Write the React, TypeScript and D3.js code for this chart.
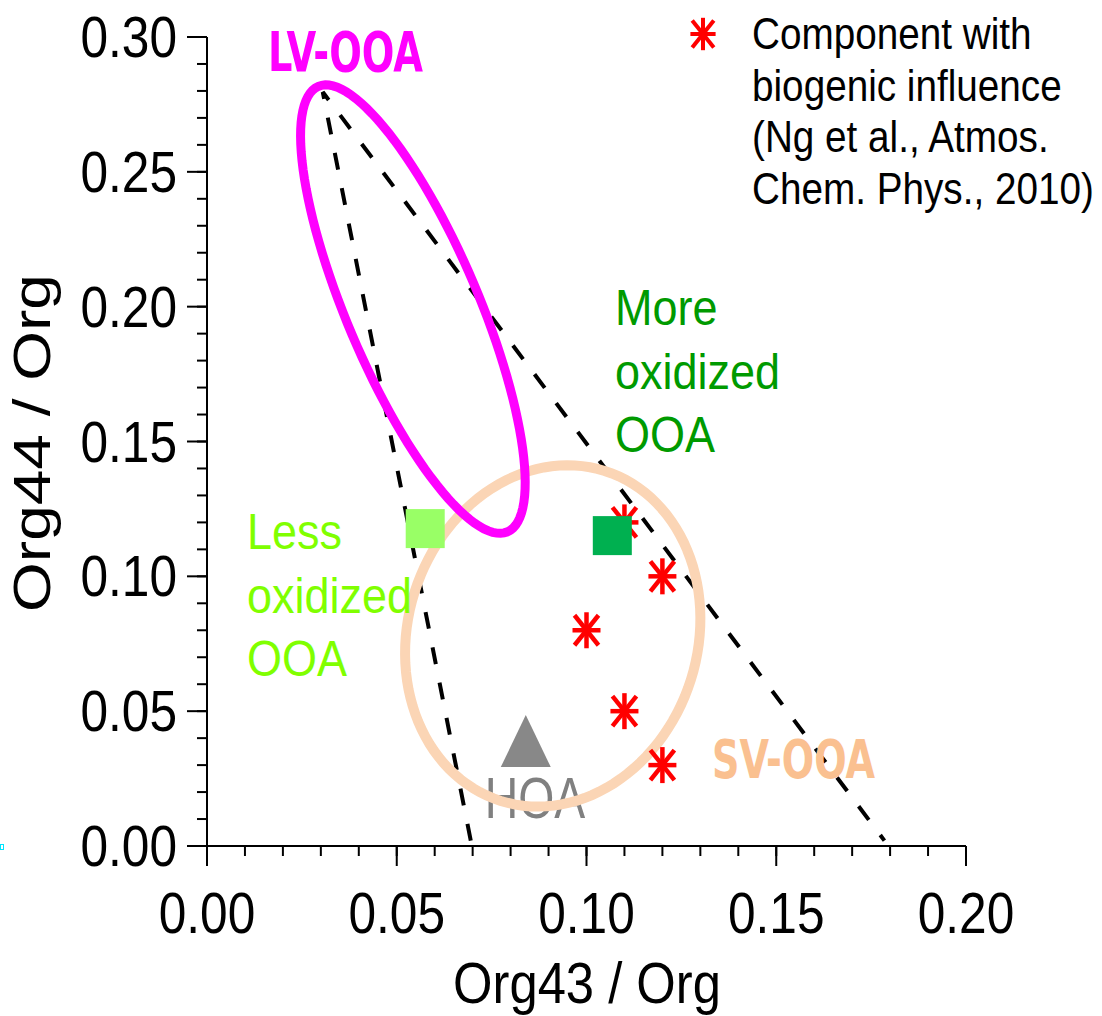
import React from "react";
import * as d3 from "d3";

// ---- data ----
const xDomain = [0, 0.2];
const yDomain = [0, 0.3];
const xTickLabels = ["0.00", "0.05", "0.10", "0.15", "0.20"];
const yTickLabels = ["0.00", "0.05", "0.10", "0.15", "0.20", "0.25", "0.30"];
const biogenicX = [0.11, 0.12, 0.10, 0.11, 0.12];
const biogenicY = [0.12, 0.10, 0.08, 0.05, 0.03];
const lessOOA = [0.0575, 0.1177];
const moreOOA = [0.1068, 0.1151];
const hoaPoint = [0.084, 0.0389];
const triApex = [0.0305, 0.2796];
const triLeftEnd = [0.0695, 0.002];
const triRightEnd = [0.1785, 0.002];
// ellipses: center, major conjugate vector, minor conjugate vector (data units)
const lvCenter = [0.05425, 0.1991];
const lvMajor = [0.0249, -0.0826];
const lvMinor = [-0.0160, -0.00956];
const svCenter = [0.0911, 0.0779];
const svMajor = [0.01369, 0.06119];
const svMinor = [0.03642, -0.01617];
const legendLines = ["Component with", "biogenic influence", "(Ng et al., Atmos.", "Chem. Phys., 2010)"];
const moreLines = ["More", "oxidized", "OOA"];
const lessLines = ["Less", "oxidized", "OOA"];

const W = 1102, H = 1016;
const FONT = "'Liberation Sans', Arial, sans-serif";
const BOLDNARROW = "'Liberation Sans Narrow', 'DejaVu Sans Condensed', 'Liberation Sans', sans-serif";

export default function App() {
  const x = d3.scaleLinear().domain(xDomain).range([207, 966]);
  const y = d3.scaleLinear().domain(yDomain).range([846, 37]);

  const xMajor = x.ticks(4);
  const xMinor = x.ticks(20);
  const yMajor = y.ticks(6);
  const yMinor = y.ticks(30);

  const line = d3.line<number[]>().x(d => x(d[0])).y(d => y(d[1]));

  const ellipsePath = (c: number[], u: number[], v: number[]) => {
    const pts = d3.range(0, 120).map(i => {
      const t = (i / 120) * 2 * Math.PI;
      return [c[0] + u[0] * Math.cos(t) + v[0] * Math.sin(t), c[1] + u[1] * Math.cos(t) + v[1] * Math.sin(t)];
    });
    return d3.line<number[]>().x(d => x(d[0])).y(d => y(d[1])).curve(d3.curveLinearClosed)(pts) || "";
  };

  const asterisk = (cx: number, cy: number, k = 1) => (
    <g transform={`translate(${cx},${cy}) scale(${k})`} stroke="#FF0000" strokeWidth={4.5}>
      <line x1={0} y1={-18} x2={0} y2={18} />
      <line x1={-14} y1={0} x2={14} y2={0} />
      <line x1={-12} y1={-15} x2={12} y2={15} />
      <line x1={-12} y1={15} x2={12} y2={-15} />
    </g>
  );

  const sq = 39;
  const triW = 50, triH = 52;
  const hx = x(hoaPoint[0]), hy = y(hoaPoint[1]);

  return (
    <svg width={W} height={H} style={{ position: "absolute", left: 0, top: 0, background: "#fff" }}>
      <rect x={0} y={0} width={W} height={H} fill="#fff" />
      <rect x={0.5} y={844.5} width={3} height={5} fill="none" stroke="#00E5FF" strokeWidth={1} />

      {/* axes */}
      <line x1={207} y1={y(0.3)} x2={207} y2={866} stroke="#000" strokeWidth={2} />
      <line x1={187} y1={846} x2={x(0.2)} y2={846} stroke="#000" strokeWidth={2} />
      {xMinor.map((t, i) => (
        <line key={"xm" + i} x1={x(t)} x2={x(t)} y1={846} y2={856} stroke="#000" strokeWidth={2} />
      ))}
      {xMajor.map((t, i) => (
        <line key={"xM" + i} x1={x(t)} x2={x(t)} y1={846} y2={866} stroke="#000" strokeWidth={2} />
      ))}
      {yMinor.map((t, i) => (
        <line key={"ym" + i} x1={197} x2={207} y1={y(t)} y2={y(t)} stroke="#000" strokeWidth={2} />
      ))}
      {yMajor.map((t, i) => (
        <line key={"yM" + i} x1={187} x2={207} y1={y(t)} y2={y(t)} stroke="#000" strokeWidth={2} />
      ))}
      {xMajor.map((t, i) => (
        <text key={"xl" + i} transform={`translate(${x(t)},933) scale(0.87,1)`} textAnchor="middle"
          fontFamily={FONT} fontSize={57} fill="#000">{xTickLabels[i]}</text>
      ))}
      {yMajor.map((t, i) => (
        <text key={"yl" + i} transform={`translate(177,${y(t) + 20}) scale(0.87,1)`} textAnchor="end"
          fontFamily={FONT} fontSize={57} fill="#000">{yTickLabels[i]}</text>
      ))}
      <text transform="translate(587,1003) scale(0.89,1)" textAnchor="middle" fontFamily={FONT} fontSize={57} fill="#000">Org43 / Org</text>
      <text transform="translate(50,443) rotate(-90) scale(1,0.8)" textAnchor="middle" fontFamily={FONT} fontSize={64} fill="#000">Org44 / Org</text>

      {/* Ng triangle */}
      <path d={line([triLeftEnd, triApex, triRightEnd]) || ""} fill="none" stroke="#000" strokeWidth={4} strokeDasharray="17,19" />

      {/* HOA label */}
      <text transform={`translate(535,818) scale(0.8,1)`} textAnchor="middle" fontFamily={FONT} fontSize={58} fill="#808080">HOA</text>

      {/* ellipses */}
      <path d={ellipsePath(svCenter, svMajor, svMinor)} fill="none" stroke="#FBD5B5" strokeWidth={10} />
      <path d={ellipsePath(lvCenter, lvMajor, lvMinor)} fill="none" stroke="#FF00FF" strokeWidth={9} />

      {/* biogenic points */}
      {biogenicX.map((bx, i) => <g key={"b" + i}>{asterisk(x(bx), y(biogenicY[i]))}</g>)}

      {/* squares & triangle */}
      <rect x={x(lessOOA[0]) - sq / 2} y={y(lessOOA[1]) - sq / 2} width={sq} height={sq} fill="#99FF66" />
      <rect x={x(moreOOA[0]) - sq / 2} y={y(moreOOA[1]) - sq / 2} width={sq} height={sq} fill="#00B050" />
      <path d={`M${hx},${hy - triH / 2}L${hx + triW / 2},${hy + triH / 2}L${hx - triW / 2},${hy + triH / 2}Z`} fill="#888888" />

      {/* labels */}
      <text x={268} y={71} fontFamily={BOLDNARROW} fontWeight="bold" fontSize={56} fill="#FF00FF"
        textLength={155} lengthAdjust="spacingAndGlyphs">LV-OOA</text>
      <text x={712} y={778} fontFamily={BOLDNARROW} fontWeight="bold" fontSize={54} fill="#FAC090"
        textLength={163} lengthAdjust="spacingAndGlyphs">SV-OOA</text>

      {moreLines.map((s, i) => (
        <text key={"mo" + i} transform={`translate(615,${325 + i * 63.5}) scale(0.9,1)`} fontFamily={FONT} fontSize={50} fill="#009A00">{s}</text>
      ))}
      {lessLines.map((s, i) => (
        <text key={"le" + i} transform={`translate(247,${549 + i * 63.5}) scale(0.9,1)`} fontFamily={FONT} fontSize={50} fill="#80FF00">{s}</text>
      ))}

      {/* legend */}
      {asterisk(703, 34, 0.9)}
      {legendLines.map((s, i) => (
        <text key={"lg" + i} transform={`translate(752,${49 + i * 51.5}) scale(0.86,1)`} fontFamily={FONT} fontSize={45} fill="#000">{s}</text>
      ))}
    </svg>
  );
}
